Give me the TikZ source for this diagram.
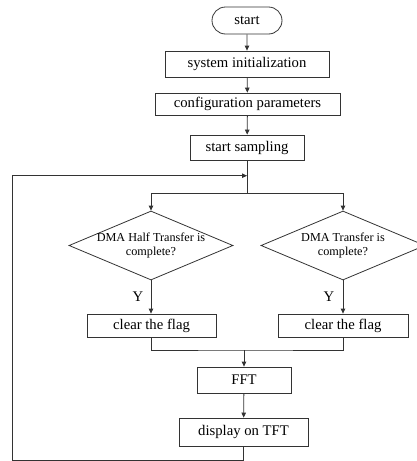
\documentclass[tikz,border=0pt]{standalone}
\usepackage{fontspec}
\setmainfont{Liberation Serif}
\usetikzlibrary{arrows.meta,shapes.geometric,shapes.misc}
\begin{document}
\begin{tikzpicture}[x=1pt,y=-1pt,
  line width=0.8pt,
  every node/.style={font=\fontsize{14.7}{16}\selectfont, inner sep=0pt},
  box/.style={draw=black!80, rectangle, minimum width=#1},
  term/.style={draw=black!80, rounded rectangle, minimum width=70pt, minimum height=27pt},
  dec/.style={draw=black!80, diamond, aspect=2.38, minimum width=164pt, minimum height=69pt},
  dectext/.style={align=center, font=\fontsize{12.2}{14}\selectfont},
  conn/.style={draw=black!80},
  arr/.style={conn, -{Triangle[length=5pt,width=4.5pt]}}]
\useasboundingbox (0,0) rectangle (417,461);
\begin{scope}
\clip (0,0) rectangle (417,461);
\node[term] (start) at (247,20.5) {start};
\node[box=164pt, minimum height=26pt] (init) at (247,64) {system initialization};
\node[box=185pt, minimum height=22pt] (conf) at (247.5,104) {configuration parameters};
\node[box=114pt, minimum height=25pt] (samp) at (247,147.5) {start sampling};
\node[dec] (d1) at (151,245.5) {};
\node[dectext] (d1t) at (d1.center) {DMA Half Transfer is\\complete?};
\node[dec] (d2) at (343,245.5) {};
\node[dectext] (d2t) at (d2.center) {DMA Transfer is\\complete?};
\node[box=129pt, minimum height=23pt] (c1) at (151.5,325.5) {clear the flag};
\node[box=130pt, minimum height=23pt] (c2) at (343,325.5) {clear the flag};
\node[box=94pt, minimum height=26pt] (fft) at (244,380) {FFT};
\node[box=129pt, minimum height=28pt] (disp) at (243.5,432) {display on TFT};
\node (y1) at (138,297) {Y};
\node (y2) at (329,297) {Y};
\coordinate (split) at (247,193);
\coordinate (loopin) at (247,175.7);
\coordinate (merge) at (244,350);
\coordinate (botl) at (12,460);

\draw[arr] (start) -- (init);
\draw[arr] (init) -- (conf);
\draw[arr] (conf) -- (samp);
\draw[conn] (samp.south) -- (split);
\draw[arr] (split) -| (d1.north);
\draw[arr] (split) -| (d2.north);
\draw[arr] (d1.south) -- (c1.north -| d1.south);
\draw[arr] (d2.south) -- (c2.north);
\draw[conn] (c1.south -| d1.south) |- (merge) -| (c2.south);
\draw[arr] (merge) -- (fft.north);
\draw[arr] (fft) -- (disp);
\draw[arr] (disp.south) |- (botl) |- (loopin);
\end{scope}
\end{tikzpicture}
\end{document}
